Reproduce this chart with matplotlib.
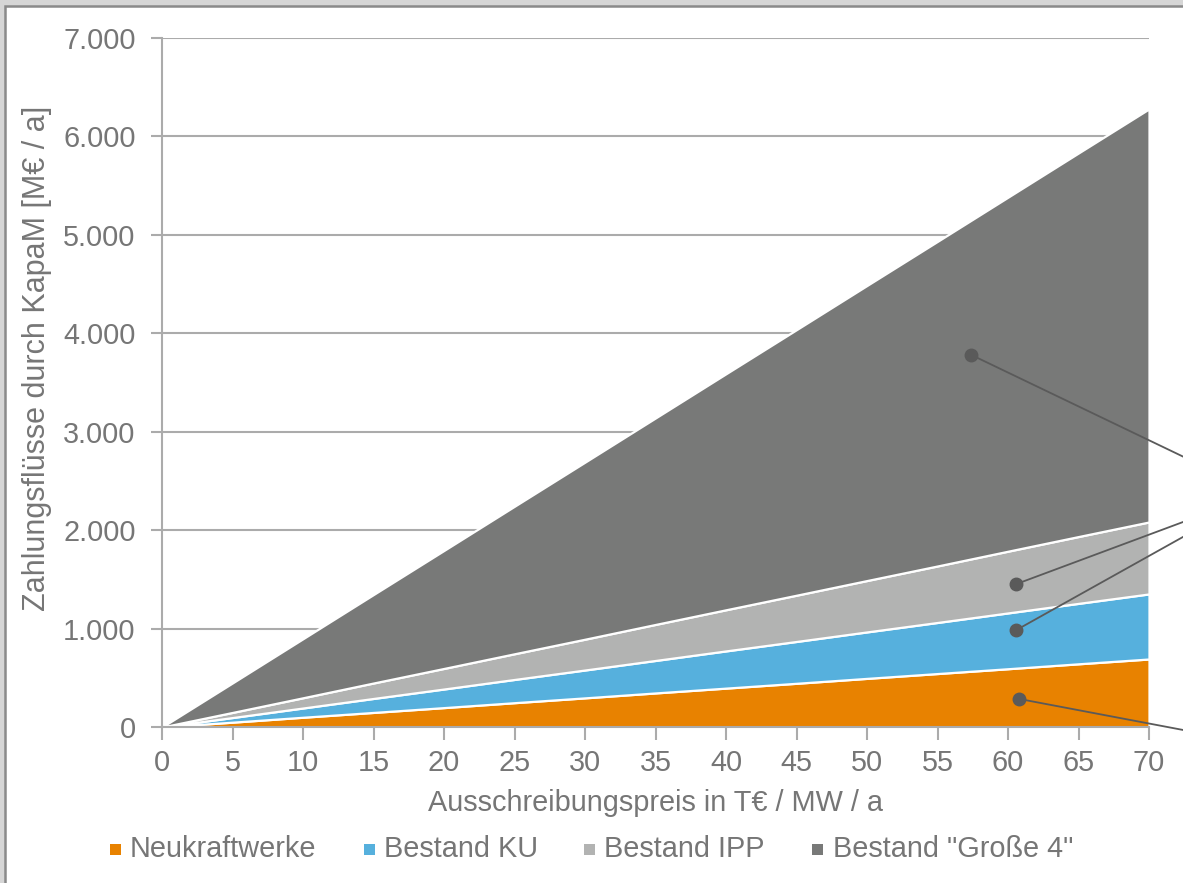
import matplotlib.pyplot as plt
from matplotlib.patches import Rectangle
from matplotlib.ticker import FuncFormatter

plt.rcParams['font.family'] = ['Liberation Sans', 'DejaVu Sans']

# Ausschreibungspreis in T€/MW/a
preis = [0, 5, 10, 15, 20, 25, 30, 35, 40, 45, 50, 55, 60, 65, 70]

# Zahlungsflüsse je Gruppe in M€/a
neukraftwerke = [0, 49, 99, 148, 197, 247, 296, 346, 395, 444, 494, 543, 592, 642, 691]
bestand_ku = [0, 47, 94, 142, 189, 236, 283, 330, 378, 425, 472, 519, 567, 614, 661]
bestand_ipp = [0, 52, 104, 157, 209, 261, 313, 366, 418, 470, 522, 574, 627, 679, 731]
bestand_gross4 = [0, 300, 600, 899, 1199, 1499, 1799, 2098, 2398, 2698, 2998, 3298, 3597, 3897, 4197]

labels = ['Neukraftwerke', 'Bestand KU', 'Bestand IPP', 'Bestand "Große 4"']
colors = ['#E88200', '#56B0DD', '#B2B3B2', '#787978']

# Markierungspunkte der Beschriftungslinien (x, y) und Linienenden rechts
marker_x = [60.8, 60.6, 60.6, 57.4]
marker_y = [285, 986, 1453, 3780]
leader_end_x = [73.0, 73.0, 73.0, 73.0]
leader_end_y = [-46, 1978, 2114, 2707]

TEXT = '#767676'
GRID = '#ABABAB'
FS = 20.8

fig = plt.figure(figsize=(11.83, 8.83), dpi=100)

# Rahmen
fig.patches.append(Rectangle((0, 0), 1, 1, transform=fig.transFigure,
                             facecolor='#D6D6D6', edgecolor='none', zorder=-10))
fig.patches.append(Rectangle((5 / 1183, -0.1), 1.2, 1.1 - 6 / 883,
                             transform=fig.transFigure, facecolor='white',
                             edgecolor='#8A8A8A', linewidth=1.8, zorder=-9))

ax = fig.add_axes([162 / 1183, 1 - 727 / 883, 987 / 1183, 689 / 883])
ax.patch.set_alpha(0)

ax.stackplot(preis, neukraftwerke, bestand_ku, bestand_ipp, bestand_gross4,
             colors=colors, edgecolor='white', linewidth=1.6, zorder=2)

for mx, my, ex, ey in zip(marker_x, marker_y, leader_end_x, leader_end_y):
    ax.plot([mx, ex], [my, ey], color='#5A5A5A', linewidth=1.3,
            clip_on=False, zorder=4)
    ax.plot(mx, my, 'o', color='#5A5A5A', markersize=9, zorder=5)

ax.set_xlim(0, 70)
ax.set_ylim(0, 7000)
ax.set_xticks(range(0, 71, 5))
ax.set_yticks(range(0, 7001, 1000))
ax.yaxis.set_major_formatter(FuncFormatter(lambda v, p: f'{v:,.0f}'.replace(',', '.')))

ax.grid(axis='y', color=GRID, linewidth=1.5, zorder=0)
ax.set_axisbelow(True)
for side in ['top', 'right']:
    ax.spines[side].set_visible(False)
for side in ['left', 'bottom']:
    ax.spines[side].set_color(GRID)
    ax.spines[side].set_linewidth(1.5)
    ax.spines[side].set_zorder(3)

ax.tick_params(axis='y', length=8, width=1.5, color=GRID, labelcolor=TEXT,
               labelsize=FS, pad=11)
ax.tick_params(axis='x', length=9, width=1.5, color=GRID, labelcolor=TEXT,
               labelsize=FS, pad=7)

fig.text(655 / 1183, 1 - 803 / 883, 'Ausschreibungspreis in T€ / MW / a',
         ha='center', va='center', fontsize=FS, color=TEXT)
fig.text(37 / 1183, 1 - 358 / 883, 'Zahlungsflüsse durch KapaM [M€ / a]',
         ha='center', va='center', rotation=90, fontsize=22, color=TEXT)

# Legende
legend_sq_x = [110, 364, 584, 812]
legend_txt_x = [130, 384, 604, 833]
for sx, tx, lab, col in zip(legend_sq_x, legend_txt_x, labels, colors):
    fig.patches.append(Rectangle((sx / 1183, 1 - 855 / 883), 11 / 1183, 11 / 883,
                                 transform=fig.transFigure, facecolor=col,
                                 edgecolor='none'))
    fig.text(tx / 1183, 1 - 849 / 883, lab, ha='left', va='center',
             fontsize=FS, color=TEXT)

fig.savefig('out.png', dpi=100)
